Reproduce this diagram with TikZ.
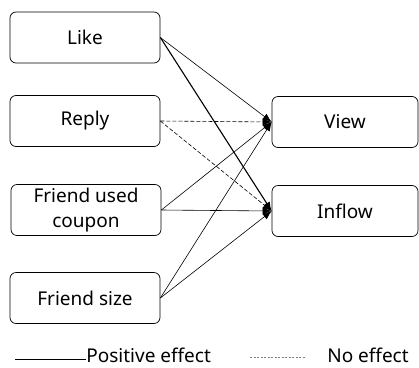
\documentclass[tikz,border=0pt]{standalone}
\usepackage{fontspec}
\setmainfont{Noto Sans}
\usetikzlibrary{arrows.meta}
\usetikzlibrary{positioning}

\begin{document}
\begin{tikzpicture}[x=1pt,y=-1pt,
  every node/.style={draw,rounded corners=6pt,minimum width=150pt,minimum height=51pt,align=center,line width=0.7pt,font=\fontsize{19}{25}\selectfont},
  effect/.style={line width=0.6pt,-{Latex[length=9pt,width=7pt]}},
  noeffect/.style={effect,dash pattern=on 4pt off 2pt},
  legend/.style={draw=none,minimum width=0pt,minimum height=0pt,inner sep=0pt,anchor=west}]
  \useasboundingbox (0,0) rectangle (419,367);
  \node (like) at (85,37.5){Like};
  \node (reply) at (85,121){Reply};
  \node (coupon) at (86,210){Friend used\\coupon};
  \node (size) at (85,298){Friend size};
  \node[minimum width=146pt] (view) at (345,122){View};
  \node[minimum width=146pt] (inflow) at (345,211){Inflow};
  \draw[effect](like.east)--(view.west);
  \draw[effect,line width=1.1pt](like.east)--(inflow.west);
  \draw[noeffect](reply.east)--(view.west);
  \draw[noeffect](reply.east)--(inflow.west);
  \draw[effect](coupon.east)--(view.west);
  \draw[effect](coupon.east)--(inflow.west);
  \draw[effect](size.east)--(view.west);
  \draw[effect](size.east)--(inflow.west);
  % legend
  \node[legend] (pos) at (86,355){Positive effect};
  \node[legend] (none) at (327,355){No effect};
  \coordinate (p1) at (15,359);
  \coordinate (p2) at (86,359);
  \coordinate (n1) at (250,357);
  \coordinate (n2) at (305,357);
  \draw[line width=0.6pt](p1)--(p2);
  \draw[line width=0.6pt,gray,dash pattern=on 2pt off 1.5pt](n1)--(n2);
\end{tikzpicture}
\end{document}
